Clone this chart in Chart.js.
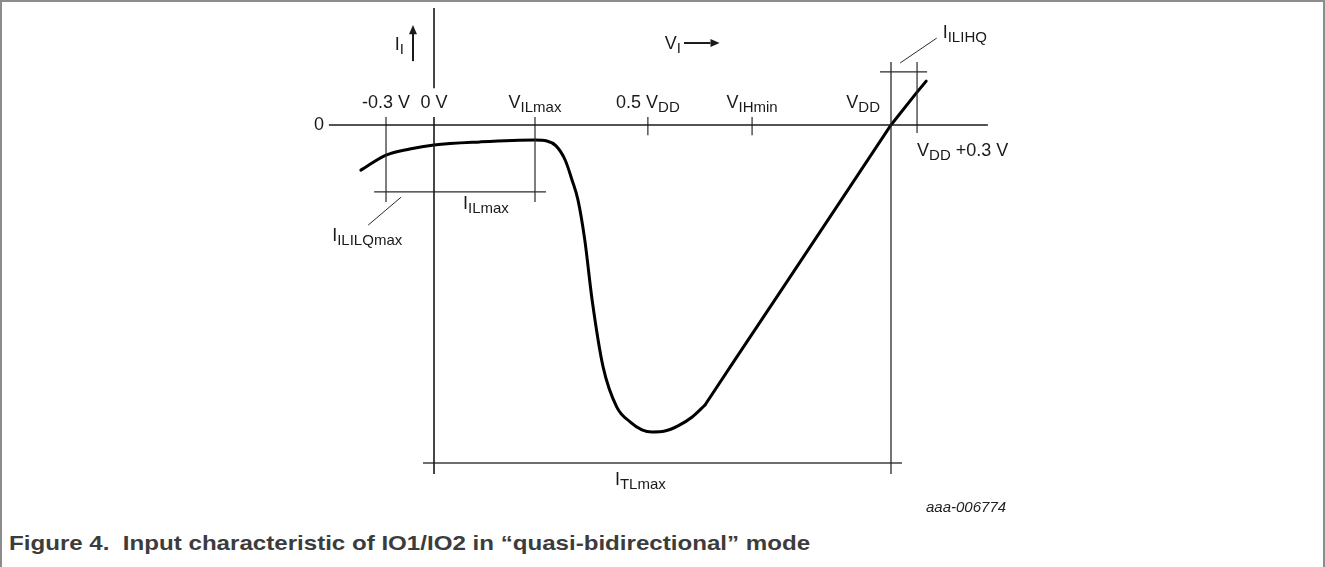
<!DOCTYPE html>
<html>
<head>
<meta charset="utf-8">
<title>Figure 4</title>
<script src="https://cdn.jsdelivr.net/npm/chart.js@4.4.0/dist/chart.umd.min.js"></script>
<style>
    html, body { margin: 0; padding: 0; background: #fff; }
    #moldura {
        position: absolute; left: 0; top: 0; width: 1325px; height: 567px;
        box-sizing: border-box; border: 2px solid #8c8c8c; border-bottom: none;
    }
    #grafico { position: absolute; left: 0; top: 0; }
    #codigo {
        position: absolute; left: 926px; top: 498px;
        font: italic 15px "Liberation Sans", Arial, sans-serif; color: #222;
    }
    #legenda {
        position: absolute; left: 9px; top: 531px; line-height: 21px;
        font: bold 21px "Liberation Sans", Arial, sans-serif; color: #3c3c3c; white-space: pre;
        transform: scaleX(1.148); transform-origin: left top;
    }
</style>
</head>
<body>
<div id="moldura"></div>
<canvas id="grafico" width="1325" height="525"></canvas>
<div id="codigo">aaa-006774</div>
<div id="legenda">Figure 4.  Input characteristic of IO1/IO2 in “quasi-bidirectional” mode</div>

<script>
// Unidades do esquema: 0 V = 0 e VDD = 10 no eixo x; corrente 0 = 0 e o fundo da curva = -100
const curvaX = [-1.60, -1.05, -0.53, 0, 1.01, 2.21, 2.47, 2.67, 2.87, 3.02, 3.15, 3.30, 3.46, 3.70, 4.00, 4.29, 4.55, 4.77, 5.05, 5.34, 5.65, 5.93, 6.54, 7.51, 8.88, 10, 10.57, 10.77];
const curvaY = [-14.7, -9.8, -7.8, -6.5, -5.5, -4.9, -5.2, -6.8, -11.4, -17.9, -24.4, -37.5, -57.0, -78.8, -91.9, -96.7, -99.3, -100, -99.7, -98.0, -95.1, -91.2, -77.5, -55.8, -25.1, 0, 10.7, 14.3];
const indiceQuebra = 21; // ponto onde a curva vira reta (x = 5.93)

// Marcas do eixo de tensão
const ticksV = [-1.05, 0, 2.21, 4.68, 6.96, 10];
const rotulosTicks = ["-0.3 V", "0 V", "V_{ILmax}", "0.5 V_{DD}", "V_{IHmin}", "V_{DD}"];
const vDDmais = 10.57;
const rotuloVDDmais = "V_{DD} +0.3 V";

// Níveis de corrente
const iILmax = -21.8;
const iILIHQ = 17.3;
const iTLmax = -110.1;
const rotulosCorrente = ["I_{ILmax}", "I_{ILIHQ}", "I_{TLmax}", "I_{ILILQmax}"];

const FONTE = "'Liberation Sans', Arial, sans-serif";

document.addEventListener("DOMContentLoaded", function () {
    const pontosCurva = curvaX.map((x, i) => ({ x: x, y: curvaY[i] }));

    function segmento(x1, y1, x2, y2, largura, cor) {
        return {
            data: [{ x: x1, y: y1 }, { x: x2, y: y2 }],
            showLine: true,
            borderColor: cor || "#2a2a2a",
            borderWidth: largura || 1.2,
            pointRadius: 0,
            clip: false
        };
    }

    const vNeg = ticksV[0], v0 = ticksV[1], vILmax = ticksV[2], vDD = ticksV[5];

    const linhas = [
        segmento(-2.30, 0, 12.12, 0, 1.6, "#1a1a1a"),          // linha do zero
        segmento(v0, 38.1, v0, 12.0, 1.6, "#1a1a1a"),         // eixo 0 V (acima do rótulo)
        segmento(v0, 2.6, v0, -113.7, 1.6, "#1a1a1a"),        // eixo 0 V
        segmento(vDD, 20.5, vDD, -113.7, 1.3),               // VDD
        segmento(vNeg, 2.6, vNeg, -25.1),
        segmento(vILmax, 2.6, vILmax, -25.1),
        segmento(-1.31, iILmax, 2.45, iILmax),
        segmento(ticksV[3], 2.6, ticksV[3], -3.3),
        segmento(ticksV[4], 2.6, ticksV[4], -3.3),
        segmento(vDDmais, 20.5, vDDmais, -2.6),
        segmento(9.76, iILIHQ, 10.79, iILIHQ),
        segmento(-0.24, iTLmax, 10.24, iTLmax, 2, "#6e6e6e"),
        segmento(-0.72, -23.5, -1.44, -32.6, 1),
        segmento(10.2, 20.2, 11.0, 28.3, 1)
    ];

    // Rótulos com índice (subscrito) desenhados sobre o gráfico
    function desenharRotulo(ctx, texto, x, y, alinhar) {
        const partes = texto.split(/(_\{[^}]*\})/).filter(p => p);
        let largura = 0;
        const pedacos = partes.map(p => {
            const sub = p.startsWith("_{");
            const t = sub ? p.slice(2, -1) : p;
            ctx.font = (sub ? 15 : 18) + "px " + FONTE;
            const w = ctx.measureText(t).width;
            largura += w;
            return { t: t, sub: sub, w: w };
        });
        let xi = x;
        if (alinhar === "center") xi = x - largura / 2;
        if (alinhar === "right") xi = x - largura;
        ctx.textAlign = "left";
        ctx.textBaseline = "alphabetic";
        pedacos.forEach(p => {
            ctx.font = (p.sub ? 15 : 18) + "px " + FONTE;
            ctx.fillText(p.t, xi, p.sub ? y + 4 : y);
            xi += p.w;
        });
    }

    const pluginRotulos = {
        id: "rotulos",
        afterDatasetsDraw(chart) {
            const ctx = chart.ctx;
            const sx = chart.scales.x, sy = chart.scales.y;
            const px = v => sx.getPixelForValue(v);
            const py = v => sy.getPixelForValue(v);
            ctx.save();
            ctx.fillStyle = "#1a1a1a";
            ctx.strokeStyle = "#1a1a1a";

            // marcas do eixo de tensão
            ticksV.forEach((v, i) => {
                if (i === 5) desenharRotulo(ctx, rotulosTicks[i], px(v) - 11, py(0) - 17, "right");
                else desenharRotulo(ctx, rotulosTicks[i], px(v), py(0) - 17, "center");
            });
            desenharRotulo(ctx, rotuloVDDmais, px(vDDmais), py(0) + 31, "left");

            // zero do eixo de corrente
            ctx.font = "18px " + FONTE;
            ctx.textAlign = "right";
            ctx.textBaseline = "middle";
            ctx.fillText("0", px(-2.30) - 5, py(0));

            // rótulos de corrente
            desenharRotulo(ctx, rotulosCorrente[0], px(v0) + 29, py(iILmax) + 17, "left");
            desenharRotulo(ctx, rotulosCorrente[1], px(11.0) + 6, py(28.3), "left");
            desenharRotulo(ctx, rotulosCorrente[2], px(ticksV[3]) - 33, py(iTLmax) + 22, "left");
            desenharRotulo(ctx, rotulosCorrente[3], px(-1.44) - 36, py(-32.6) + 16, "left");

            // setas I_I e V_I
            ctx.lineWidth = 2;
            const ax = px(-0.46);
            ctx.beginPath();
            ctx.moveTo(ax, py(20.8));
            ctx.lineTo(ax, py(30));
            ctx.stroke();
            ctx.beginPath();
            ctx.moveTo(ax, py(32.6));
            ctx.lineTo(ax - 4, py(29.6));
            ctx.lineTo(ax + 4, py(29.6));
            ctx.closePath();
            ctx.fill();
            desenharRotulo(ctx, "I_{I}", ax - 9, py(24.4), "right");

            const ay = py(26.7);
            ctx.beginPath();
            ctx.moveTo(px(5.47), ay);
            ctx.lineTo(px(6.05), ay);
            ctx.stroke();
            ctx.beginPath();
            ctx.moveTo(px(6.25), ay);
            ctx.lineTo(px(6.05), ay - 4);
            ctx.lineTo(px(6.05), ay + 4);
            ctx.closePath();
            ctx.fill();
            desenharRotulo(ctx, "V_{I}", px(5.47) - 3, py(24.8), "right");

            ctx.restore();
        }
    };

    const estiloCurva = {
        showLine: true,
        borderColor: "#000",
        borderWidth: 3,
        pointRadius: 0,
        borderCapStyle: "round",
        clip: false
    };

    new Chart(document.getElementById("grafico"), {
        type: "scatter",
        data: {
            datasets: linhas.concat([
                Object.assign({ data: pontosCurva.slice(0, indiceQuebra + 1), cubicInterpolationMode: "monotone" }, estiloCurva),
                Object.assign({ data: pontosCurva.slice(indiceQuebra), tension: 0 }, estiloCurva)
            ])
        },
        options: {
            responsive: false,
            animation: false,
            layout: { padding: { left: 296.9, right: 205.5, top: 2.2, bottom: 16.25 } },
            plugins: { legend: { display: false }, tooltip: { enabled: false } },
            scales: {
                x: { type: "linear", min: -3, max: 15, display: false },
                y: { type: "linear", min: -125, max: 40, display: false }
            }
        },
        plugins: [pluginRotulos]
    });
});
</script>
</body>
</html>
